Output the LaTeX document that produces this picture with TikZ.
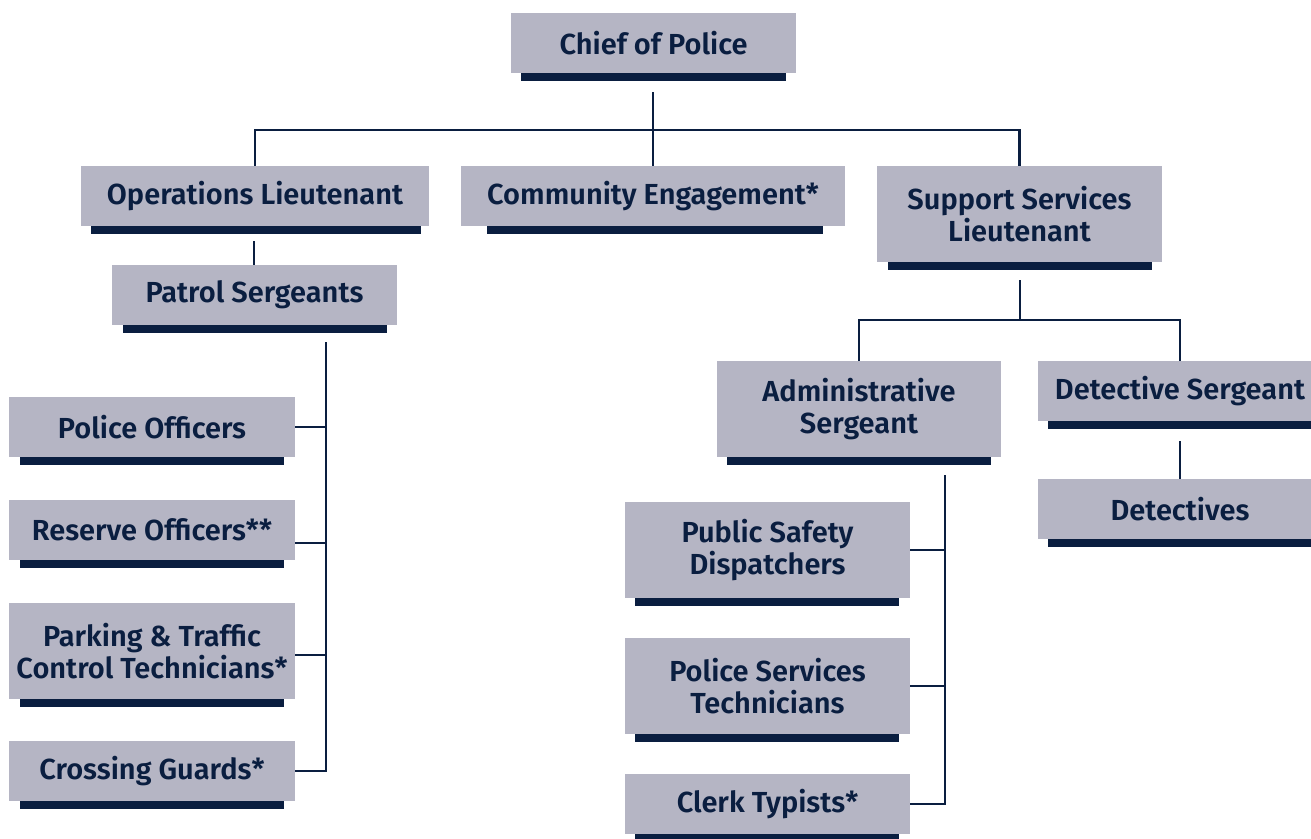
\documentclass[tikz,border=0pt]{standalone}
\usepackage{fontspec}
\setmainfont{Fira Sans}[BoldFont={Fira Sans SemiBold}]
\definecolor{boxgray}{RGB}{181,181,196}
\definecolor{navy}{RGB}{10,30,64}
\newcommand\orgbox[8]{%
  \node[boxst, minimum width={#4-#2}, minimum height={#5-#3}] (#1) at ({(#2+#4)/2},{(#3+#5)/2}) {#8};
  \node[barst, minimum width={#7-#6}] (#1bar) at ({(#6+#7)/2},{#5+4}) {};}
\begin{document}
\begin{tikzpicture}[x=1pt,y=-1pt,
  boxst/.style={fill=boxgray, inner sep=0pt, align=center, text=navy,
    font=\bfseries\fontsize{29}{32}\selectfont},
  barst/.style={fill=navy, inner sep=0pt, minimum height=8},
  conn/.style={draw=navy, line width=2.5pt}]
\useasboundingbox (0,0) rectangle (1311,838);
\orgbox{chief}{511}{13}{796}{73}{521}{786}{Chief of Police}
\orgbox{ops}{81}{166}{429}{226}{91}{421}{Operations Lieutenant}
\orgbox{comm}{461}{166}{845}{226}{487}{823}{Community Engagement*}
\orgbox{supp}{877}{166}{1162}{262}{888}{1152}{Support Services\\Lieutenant}
\orgbox{patrol}{112}{265}{397}{325}{123}{387}{Patrol Sergeants}
\orgbox{police}{9}{397}{295}{457}{20}{284}{Police Officers}
\orgbox{reserve}{9}{500}{295}{560}{20}{284}{Reserve Officers**}
\orgbox{parking}{9}{603}{295}{699}{20}{284}{Parking \& Traffic\\Control Technicians*}
\orgbox{crossing}{9}{741}{295}{801}{20}{284}{Crossing Guards*}
\orgbox{admin}{717}{361}{1001}{457}{727}{991}{Administrative\\Sergeant}
\orgbox{detsgt}{1038}{361}{1322}{421}{1048}{1320}{Detective Sergeant}
\orgbox{detectives}{1038}{479}{1322}{539}{1048}{1320}{Detectives}
\orgbox{dispatch}{625}{502}{910}{598}{635}{899}{Public Safety\\Dispatchers}
\orgbox{pst}{625}{638}{910}{734}{635}{899}{Police Services\\Technicians}
\orgbox{clerk}{625}{774}{910}{834}{635}{899}{Clerk Typists*}
% junctions
\coordinate (c0) at (653,92);
\coordinate (j0) at (653,130);
\coordinate (c1) at (254,241);
\coordinate (ptop) at (326,342);
\coordinate (c2) at (1020,280);
\coordinate (j1) at (1020,320);
\coordinate (c3) at (1180,441);
\coordinate (atop) at (945,475);
% connectors
\draw[conn] (c0) -- (j0);
\draw[conn] (ops.north) -- (ops.north |- j0) -- (supp.north |- j0) -- (supp.north);
\draw[conn] (j0) -- (comm.north);
\draw[conn] (c1) -- (c1 |- patrol.north);
\draw[conn] (ptop) -- (ptop |- crossing.east) -- (crossing.east);
\draw[conn] ([yshift=0pt]police.east) -- (police.east -| ptop);
\draw[conn] ([yshift=-13pt]reserve.east) -- ([yshift=-13pt]reserve.east -| ptop);
\draw[conn] ([yshift=-4pt]parking.east) -- ([yshift=-4pt]parking.east -| ptop);
\draw[conn] (c2) -- (j1);
\draw[conn] (admin.north) -- (admin.north |- j1) -- (detsgt.north |- j1) -- (detsgt.north);
\draw[conn] (c3) -- (detectives.north);
\draw[conn] (atop) -- (atop |- clerk.east) -- (clerk.east);
\draw[conn] (dispatch.east) -- (dispatch.east -| atop);
\draw[conn] (pst.east) -- (pst.east -| atop);
\end{tikzpicture}
\end{document}
